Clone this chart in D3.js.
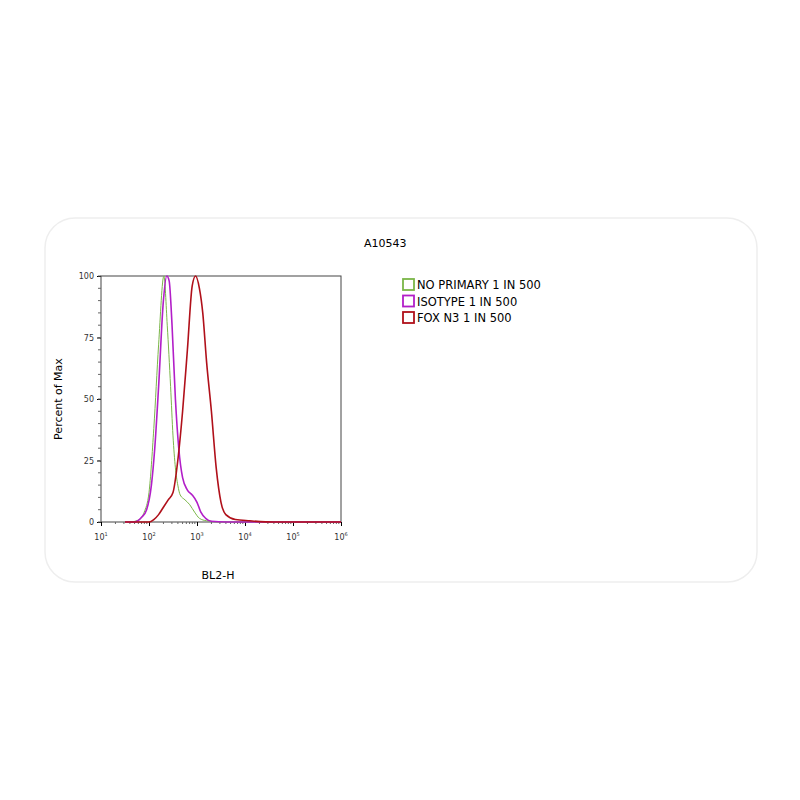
<!DOCTYPE html>
<html><head><meta charset="utf-8">
<script src="https://cdn.jsdelivr.net/npm/d3@7"></script>
<style>body{margin:0;background:#fff}</style></head>
<body><svg id="chart" width="800" height="800"></svg>
<script>
// x = log10(BL2-H), y = percent of max
const noPrimary = [[1.5,0],[1.6,0],[1.8,1],[1.9,4],[2.0,12],[2.1,38],[2.2,72],[2.31,100],[2.38,80],[2.45,55],[2.5,35],[2.55,22],[2.6,15],[2.65,11],[2.75,9],[2.85,7],[2.95,4],[3.05,1.5],[3.2,0.5],[3.5,0],[6,0]];
const isotype = [[1.5,0],[1.7,0],[1.85,2],[1.95,5],[2.05,15],[2.12,30],[2.2,55],[2.3,90],[2.37,100],[2.42,98],[2.48,80],[2.55,50],[2.62,30],[2.7,18],[2.8,13],[2.9,11],[3.0,8],[3.08,4],[3.18,1.5],[3.3,0.3],[3.6,0],[6,0]];
const foxN3 = [[1.5,0],[2.0,0],[2.1,1],[2.2,3],[2.3,6],[2.4,9],[2.5,12],[2.6,25],[2.7,45],[2.8,70],[2.9,96],[2.97,100],[3.05,95],[3.12,85],[3.2,65],[3.3,45],[3.4,22],[3.5,8],[3.6,3],[3.8,1],[4.1,0.5],[4.6,0],[6,0]];
const seriesNames = ['NO PRIMARY 1 IN 500','ISOTYPE 1 IN 500','FOX N3 1 IN 500'];
const seriesColors = ['#7ab648','#b21ec8','#b0101a'];
const yTicks = [0,25,50,75,100];
const xDecades = [1,2,3,4,5,6];

const svg = d3.select('#chart');
const font = 'Verdana, "DejaVu Sans", sans-serif';
svg.append('rect').attr('x',45).attr('y',218).attr('width',712).attr('height',364)
  .attr('rx',30).attr('fill','none').attr('stroke','#eee').attr('stroke-width',1.5);

const x = d3.scaleLinear().domain([1,6]).range([101,341]);
const y = d3.scaleLinear().domain([0,100]).range([522,276]);

svg.append('rect').attr('x',101).attr('y',276).attr('width',240).attr('height',246)
  .attr('fill','none').attr('stroke','#444').attr('stroke-width',1);

const ya = svg.append('g').attr('transform','translate(101,0)')
  .call(d3.axisLeft(y).tickValues(yTicks).tickSize(4));
ya.select('.domain').remove();
ya.selectAll('text').style('font-size','8px').style('font-family',font).attr('fill','#333');
// minor y ticks
svg.append('g').selectAll('line').data(d3.range(0,101,5)).join('line')
  .attr('x1',98).attr('x2',101).attr('y1',d=>y(d)).attr('y2',d=>y(d)).attr('stroke','#666');

const xa = svg.append('g').attr('transform','translate(0,522)')
  .call(d3.axisBottom(x).tickValues(xDecades).tickSize(4).tickFormat(''));
xa.select('.domain').remove();
const minor = [];
xDecades.slice(0,-1).forEach(d=>{for(let k=2;k<10;k++) minor.push(d+Math.log10(k));});
svg.append('g').selectAll('line').data(minor).join('line')
  .attr('x1',d=>x(d)).attr('x2',d=>x(d)).attr('y1',522).attr('y2',524).attr('stroke','#666');
const xl = svg.append('g').selectAll('text').data(xDecades).join('text')
  .attr('x',d=>x(d)).attr('y',540).attr('text-anchor','middle')
  .style('font-family',font).style('font-size','8px').attr('fill','#333');
xl.append('tspan').text('10');
xl.append('tspan').attr('dy',-4).style('font-size','5px').text(d=>d);

const line = d3.line().x(d=>x(d[0])).y(d=>y(d[1])).curve(d3.curveMonotoneX);
[noPrimary,isotype,foxN3].forEach((s,i)=>{
  svg.append('path').datum(s).attr('d',line).attr('fill','none')
    .attr('stroke',seriesColors[i]).attr('stroke-width',i===0?1:1.6);
});

svg.append('text').attr('x',62).attr('y',399).attr('transform','rotate(-90,62,399)')
  .attr('text-anchor','middle').style('font-family',font).style('font-size','11px').text('Percent of Max');
svg.append('text').attr('x',218).attr('y',579).attr('text-anchor','middle')
  .style('font-family',font).style('font-size','11px').text('BL2-H');
svg.append('text').attr('x',364).attr('y',247)
  .style('font-family',font).style('font-size','11px').text('A10543');

const lg = svg.append('g').selectAll('g').data(seriesNames).join('g')
  .attr('transform',(d,i)=>`translate(403,${279+i*16.5})`);
lg.append('rect').attr('width',11).attr('height',11).attr('fill','none')
  .attr('stroke',(d,i)=>seriesColors[i]).attr('stroke-width',1.8);
lg.append('text').attr('x',14).attr('y',10).style('font-family',font).style('font-size','11.5px').text(d=>d);
</script></body></html>
